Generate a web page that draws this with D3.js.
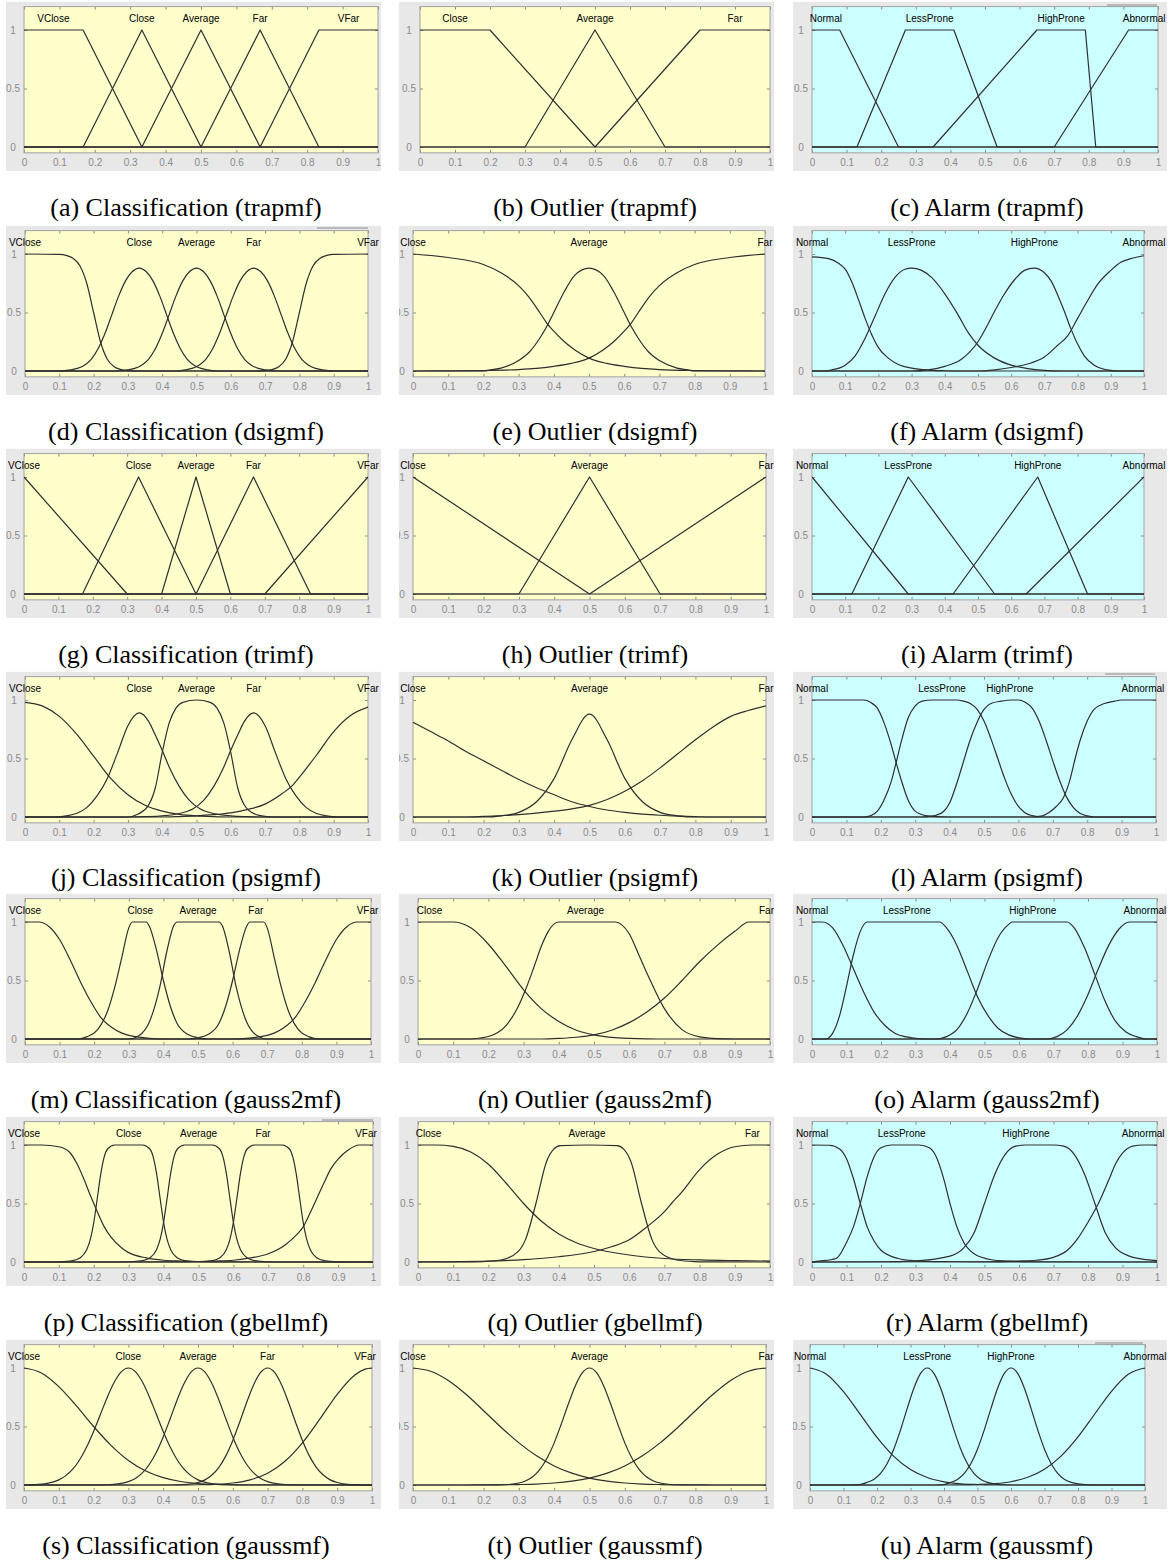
<!DOCTYPE html>
<html><head><meta charset="utf-8">
<script src="https://cdn.jsdelivr.net/npm/d3@7"></script>
<style>body{margin:0;background:#fff;} svg{display:block;}</style>
</head><body><svg id="chart" width="1169" height="1564"></svg>
<script>
// ---------- DATA ----------
const xTicks = [0,0.1,0.2,0.3,0.4,0.5,0.6,0.7,0.8,0.9,1];
const xTickLabels = ["0","0.1","0.2","0.3","0.4","0.5","0.6","0.7","0.8","0.9","1"];
const yTicks = [0,0.5,1];
const yTickLabels = ["0","0.5","1"];
const classNames = ["VClose","Close","Average","Far","VFar"];
const outlierNames = ["Close","Average","Far"];
const alarmNames = ["Normal","LessProne","HighProne","Abnormal"];
const groupNames = ["Classification","Outlier","Alarm"];
const mfTypes = ["trapmf","dsigmf","trimf","psigmf","gauss2mf","gbellmf","gaussmf"];
const letters = "abcdefghijklmnopqrstu".split("");

// (a)
const clsTrap = [
 [[0,1],[0.167,1],[0.333,0],[1,0]],
 [[0,0],[0.167,0],[0.333,1],[0.5,0],[1,0]],
 [[0,0],[0.333,0],[0.5,1],[0.667,0],[1,0]],
 [[0,0],[0.5,0],[0.667,1],[0.833,0],[1,0]],
 [[0,0],[0.667,0],[0.833,1],[1,1]]];
const clsTrapLX = [0.083,0.333,0.5,0.667,0.917];
// (b)
const outTrap = [
 [[0,1],[0.2,1],[0.5,0],[1,0]],
 [[0,0],[0.3,0],[0.5,1],[0.7,0],[1,0]],
 [[0,0],[0.5,0],[0.8,1],[1,1]]];
const outTrapLX = [0.1,0.5,0.9];
// (c)
const almTrap = [
 [[0,1],[0.08,1],[0.25,0],[1,0]],
 [[0,0],[0.13,0],[0.27,1],[0.41,1],[0.535,0],[1,0]],
 [[0,0],[0.35,0],[0.65,1],[0.79,1],[0.82,0],[1,0]],
 [[0,0],[0.7,0],[0.915,1],[1,1]]];
const almTrapLX = [0.04,0.34,0.72,0.96];
// (d)
const clsDsig = [
 [[0,1],[0.1,0.996],[0.12,0.988],[0.14,0.964],[0.16,0.9],[0.18,0.75],[0.2,0.5],[0.22,0.25],[0.24,0.1],[0.26,0.036],[0.28,0.012],[0.3,0.004],[0.33,0],[1,0]],
 [[0,0],[0.1,0],[0.133,0.01],[0.153,0.022],[0.173,0.05],[0.193,0.1],[0.213,0.19],[0.233,0.32],[0.253,0.48],[0.273,0.64],[0.293,0.77],[0.313,0.85],[0.333,0.88],[0.353,0.85],[0.373,0.77],[0.393,0.64],[0.413,0.48],[0.433,0.32],[0.453,0.19],[0.473,0.1],[0.493,0.05],[0.513,0.022],[0.533,0.01],[0.56,0],[1,0]],
 [[0,0],[0.27,0],[0.3,0.01],[0.32,0.022],[0.34,0.05],[0.36,0.1],[0.38,0.19],[0.4,0.32],[0.42,0.48],[0.44,0.64],[0.46,0.77],[0.48,0.85],[0.5,0.88],[0.52,0.85],[0.54,0.77],[0.56,0.64],[0.58,0.48],[0.6,0.32],[0.62,0.19],[0.64,0.1],[0.66,0.05],[0.68,0.022],[0.7,0.01],[0.73,0],[1,0]],
 [[0,0],[0.44,0],[0.467,0.01],[0.487,0.022],[0.507,0.05],[0.527,0.1],[0.547,0.19],[0.567,0.32],[0.587,0.48],[0.607,0.64],[0.627,0.77],[0.647,0.85],[0.667,0.88],[0.687,0.85],[0.707,0.77],[0.727,0.64],[0.747,0.48],[0.767,0.32],[0.787,0.19],[0.807,0.1],[0.827,0.05],[0.847,0.022],[0.867,0.01],[0.9,0],[1,0]],
 [[0,0],[0.67,0],[0.7,0.004],[0.72,0.012],[0.74,0.036],[0.76,0.1],[0.78,0.25],[0.8,0.5],[0.82,0.75],[0.84,0.9],[0.86,0.964],[0.88,0.988],[0.9,0.996],[1,1]]];
const clsDsigLX = [0,0.333,0.5,0.667,1];
// (e)
const outDsig = [
 [[0,1],[0.1,0.97],[0.2,0.91],[0.25,0.84],[0.3,0.73],[0.33,0.63],[0.36,0.5],[0.38,0.41],[0.4,0.34],[0.43,0.25],[0.46,0.18],[0.5,0.11],[0.55,0.065],[0.6,0.04],[0.65,0.022],[0.7,0.012],[0.8,0.004],[0.9,0.001],[1,0]],
 [[0,0],[0.2,0],[0.22,0.01],[0.25,0.025],[0.3,0.09],[0.33,0.16],[0.36,0.28],[0.38,0.38],[0.4,0.5],[0.43,0.68],[0.46,0.82],[0.5,0.88],[0.54,0.82],[0.57,0.68],[0.6,0.5],[0.62,0.38],[0.64,0.28],[0.67,0.16],[0.7,0.09],[0.75,0.025],[0.78,0.01],[0.8,0],[1,0]],
 [[0,0],[0.1,0.001],[0.2,0.004],[0.3,0.012],[0.35,0.022],[0.4,0.04],[0.45,0.065],[0.5,0.11],[0.54,0.18],[0.57,0.25],[0.6,0.34],[0.62,0.41],[0.64,0.5],[0.67,0.63],[0.7,0.73],[0.75,0.84],[0.8,0.91],[0.9,0.97],[1,1]]];
const outDsigLX = [0,0.5,1];
// (f)
const almDsig = [
 [[0,0.975],[0.05,0.96],[0.08,0.92],[0.1,0.87],[0.12,0.76],[0.14,0.61],[0.16,0.45],[0.18,0.31],[0.2,0.2],[0.23,0.11],[0.26,0.055],[0.3,0.025],[0.35,0.008],[0.4,0.002],[0.45,0],[1,0]],
 [[0,0],[0.04,0],[0.06,0.01],[0.1,0.05],[0.13,0.13],[0.16,0.28],[0.19,0.47],[0.22,0.66],[0.25,0.8],[0.28,0.87],[0.3,0.88],[0.33,0.86],[0.36,0.8],[0.4,0.66],[0.44,0.48],[0.47,0.33],[0.5,0.22],[0.55,0.11],[0.6,0.05],[0.65,0.02],[0.7,0.005],[0.75,0],[1,0]],
 [[0,0],[0.3,0],[0.35,0.01],[0.4,0.04],[0.45,0.1],[0.5,0.25],[0.53,0.4],[0.55,0.51],[0.58,0.66],[0.61,0.78],[0.64,0.86],[0.67,0.88],[0.7,0.84],[0.72,0.77],[0.74,0.65],[0.76,0.51],[0.78,0.36],[0.8,0.23],[0.82,0.13],[0.85,0.05],[0.88,0.015],[0.9,0.005],[0.92,0],[1,0]],
 [[0,0],[0.5,0],[0.55,0.01],[0.6,0.03],[0.65,0.06],[0.7,0.12],[0.74,0.22],[0.77,0.3],[0.8,0.45],[0.83,0.6],[0.86,0.74],[0.9,0.86],[0.93,0.93],[0.96,0.96],[1,0.985]]];
const almDsigLX = [0,0.3,0.67,1];
// (g)
const clsTri = [
 [[0,1],[0.3,0],[1,0]],
 [[0,0],[0.17,0],[0.333,1],[0.5,0],[1,0]],
 [[0,0],[0.4,0],[0.5,1],[0.6,0],[1,0]],
 [[0,0],[0.5,0],[0.667,1],[0.833,0],[1,0]],
 [[0,0],[0.7,0],[1,1]]];
const clsTriLX = [0,0.333,0.5,0.667,1];
// (h)
const outTri = [
 [[0,1],[0.5,0],[1,0]],
 [[0,0],[0.3,0],[0.5,1],[0.7,0],[1,0]],
 [[0,0],[0.5,0],[1,1]]];
const outTriLX = [0,0.5,1];
// (i)
const almTri = [
 [[0,1],[0.29,0],[1,0]],
 [[0,0],[0.12,0],[0.29,1],[0.55,0],[1,0]],
 [[0,0],[0.425,0],[0.68,1],[0.83,0],[1,0]],
 [[0,0],[0.645,0],[1,1]]];
const almTriLX = [0,0.29,0.68,1];
// (j)
const clsPsig = [
 [[0,0.98],[0.05,0.95],[0.1,0.86],[0.15,0.71],[0.2,0.52],[0.25,0.33],[0.3,0.19],[0.35,0.1],[0.4,0.05],[0.45,0.022],[0.5,0.009],[0.55,0.003],[0.6,0],[1,0]],
 [[0,0],[0.09,0],[0.12,0.01],[0.15,0.03],[0.18,0.08],[0.21,0.18],[0.24,0.33],[0.27,0.55],[0.3,0.78],[0.333,0.89],[0.36,0.82],[0.38,0.7],[0.4,0.57],[0.42,0.43],[0.45,0.26],[0.48,0.14],[0.51,0.07],[0.55,0.03],[0.6,0.01],[0.65,0.003],[0.7,0],[1,0]],
 [[0,0],[0.3,0],[0.33,0.025],[0.36,0.1],[0.38,0.25],[0.4,0.55],[0.42,0.8],[0.44,0.93],[0.46,0.98],[0.5,1],[0.54,0.98],[0.56,0.93],[0.58,0.8],[0.6,0.55],[0.62,0.25],[0.64,0.1],[0.67,0.025],[0.7,0.005],[0.73,0],[1,0]],
 [[0,0],[0.3,0],[0.35,0.003],[0.4,0.01],[0.45,0.03],[0.49,0.07],[0.52,0.14],[0.55,0.26],[0.58,0.43],[0.6,0.57],[0.62,0.7],[0.64,0.82],[0.667,0.89],[0.7,0.78],[0.73,0.55],[0.76,0.33],[0.79,0.18],[0.82,0.08],[0.85,0.03],[0.88,0.01],[0.91,0],[1,0]],
 [[0,0],[0.4,0],[0.45,0.004],[0.5,0.01],[0.55,0.02],[0.6,0.035],[0.65,0.065],[0.7,0.11],[0.75,0.2],[0.78,0.27],[0.8,0.34],[0.85,0.53],[0.9,0.73],[0.95,0.87],[1,0.94]]];
const clsPsigLX = [0,0.333,0.5,0.667,1];
// (k)
const outPsig = [
 [[0,0.81],[0.05,0.73],[0.1,0.65],[0.15,0.56],[0.2,0.48],[0.25,0.4],[0.3,0.32],[0.35,0.25],[0.4,0.19],[0.45,0.13],[0.5,0.09],[0.55,0.06],[0.6,0.04],[0.65,0.025],[0.7,0.015],[0.75,0.008],[0.8,0.003],[0.85,0],[1,0]],
 [[0,0],[0.2,0],[0.25,0.01],[0.3,0.04],[0.35,0.13],[0.4,0.33],[0.45,0.66],[0.5,0.88],[0.55,0.66],[0.6,0.33],[0.65,0.13],[0.7,0.04],[0.75,0.01],[0.8,0],[1,0]],
 [[0,0],[0.15,0],[0.2,0.005],[0.3,0.02],[0.4,0.05],[0.45,0.07],[0.5,0.1],[0.55,0.15],[0.6,0.22],[0.65,0.31],[0.7,0.42],[0.75,0.54],[0.8,0.66],[0.85,0.77],[0.9,0.86],[0.95,0.91],[1,0.95]]];
const outPsigLX = [0,0.5,1];
// (l)
const almPsig = [
 [[0,1],[0.15,1],[0.17,0.98],[0.19,0.93],[0.21,0.8],[0.23,0.62],[0.245,0.46],[0.26,0.31],[0.28,0.14],[0.3,0.05],[0.33,0.012],[0.36,0.003],[0.4,0],[1,0]],
 [[0,0],[0.15,0],[0.17,0.01],[0.19,0.05],[0.21,0.15],[0.23,0.3],[0.245,0.47],[0.26,0.65],[0.28,0.85],[0.3,0.95],[0.32,0.99],[0.35,1],[0.42,1],[0.44,0.99],[0.46,0.97],[0.48,0.92],[0.5,0.82],[0.52,0.67],[0.54,0.5],[0.56,0.33],[0.58,0.19],[0.6,0.09],[0.62,0.035],[0.64,0.012],[0.67,0],[1,0]],
 [[0,0],[0.32,0],[0.34,0.005],[0.36,0.015],[0.38,0.04],[0.4,0.12],[0.42,0.28],[0.44,0.47],[0.46,0.66],[0.48,0.81],[0.5,0.92],[0.52,0.97],[0.55,0.99],[0.58,1],[0.6,1],[0.62,0.98],[0.64,0.93],[0.66,0.82],[0.68,0.66],[0.7,0.48],[0.72,0.31],[0.74,0.17],[0.76,0.08],[0.78,0.03],[0.8,0.01],[0.82,0],[1,0]],
 [[0,0],[0.64,0],[0.67,0.01],[0.69,0.04],[0.71,0.09],[0.73,0.16],[0.75,0.32],[0.765,0.5],[0.78,0.66],[0.8,0.82],[0.82,0.92],[0.85,0.97],[0.88,0.99],[0.9,1],[1,1]]];
const almPsigLX = [0,0.378,0.575,0.962];
// (m)
const clsG2 = [
 [[0,1],[0.04,1],[0.07,0.96],[0.1,0.85],[0.13,0.68],[0.16,0.49],[0.19,0.32],[0.22,0.18],[0.25,0.1],[0.28,0.05],[0.32,0.02],[0.36,0.006],[0.4,0],[1,0]],
 [[0,0],[0.15,0],[0.18,0.02],[0.21,0.08],[0.24,0.25],[0.26,0.45],[0.28,0.7],[0.3,0.95],[0.31,1],[0.35,1],[0.36,0.96],[0.38,0.76],[0.4,0.5],[0.42,0.28],[0.44,0.13],[0.47,0.04],[0.5,0.01],[0.53,0],[1,0]],
 [[0,0],[0.3,0],[0.33,0.03],[0.36,0.15],[0.39,0.45],[0.41,0.75],[0.43,0.97],[0.44,1],[0.56,1],[0.57,0.97],[0.59,0.75],[0.61,0.45],[0.64,0.15],[0.67,0.03],[0.7,0],[1,0]],
 [[0,0],[0.47,0],[0.5,0.01],[0.53,0.04],[0.56,0.13],[0.58,0.28],[0.6,0.5],[0.62,0.76],[0.64,0.96],[0.65,1],[0.69,1],[0.7,0.95],[0.72,0.7],[0.74,0.45],[0.76,0.25],[0.79,0.08],[0.82,0.02],[0.85,0],[1,0]],
 [[0,0],[0.6,0],[0.64,0.006],[0.68,0.02],[0.72,0.05],[0.75,0.1],[0.78,0.18],[0.81,0.32],[0.84,0.49],[0.87,0.68],[0.9,0.85],[0.93,0.96],[0.96,1],[1,1]]];
const clsG2LX = [0,0.333,0.5,0.667,0.99];
// (n)
const outG2 = [
 [[0,1],[0.1,1],[0.15,0.95],[0.2,0.81],[0.25,0.62],[0.3,0.42],[0.35,0.26],[0.4,0.15],[0.45,0.075],[0.5,0.035],[0.55,0.014],[0.6,0.005],[0.65,0.001],[0.7,0],[1,0]],
 [[0,0],[0.15,0],[0.18,0.01],[0.2,0.021],[0.25,0.115],[0.28,0.25],[0.3,0.38],[0.33,0.62],[0.35,0.79],[0.37,0.92],[0.4,1],[0.56,1],[0.6,0.9],[0.63,0.7],[0.66,0.5],[0.7,0.26],[0.75,0.08],[0.8,0.018],[0.85,0.003],[0.9,0],[1,0]],
 [[0,0],[0.35,0],[0.4,0.005],[0.45,0.015],[0.5,0.035],[0.55,0.075],[0.6,0.14],[0.65,0.23],[0.7,0.35],[0.75,0.5],[0.8,0.66],[0.85,0.8],[0.9,0.92],[0.94,1],[1,1]]];
const outG2LX = [0.033,0.476,0.99];
// (o)
const almG2 = [
 [[0,1],[0.03,1],[0.06,0.95],[0.09,0.8],[0.12,0.6],[0.15,0.4],[0.18,0.23],[0.21,0.12],[0.24,0.05],[0.27,0.02],[0.3,0.006],[0.33,0],[1,0]],
 [[0,0],[0.04,0],[0.06,0.05],[0.08,0.2],[0.1,0.45],[0.12,0.72],[0.14,0.92],[0.16,1],[0.37,1],[0.39,0.95],[0.42,0.8],[0.45,0.58],[0.48,0.36],[0.51,0.2],[0.54,0.09],[0.57,0.035],[0.6,0.01],[0.63,0],[1,0]],
 [[0,0],[0.36,0],[0.39,0.02],[0.42,0.08],[0.45,0.22],[0.48,0.43],[0.51,0.67],[0.54,0.87],[0.57,0.98],[0.58,1],[0.74,1],[0.76,0.95],[0.79,0.78],[0.82,0.55],[0.85,0.32],[0.88,0.15],[0.91,0.06],[0.94,0.02],[0.97,0],[1,0]],
 [[0,0],[0.68,0],[0.71,0.02],[0.74,0.08],[0.77,0.2],[0.8,0.38],[0.83,0.6],[0.86,0.8],[0.89,0.94],[0.92,1],[1,1]]];
const almG2LX = [0,0.275,0.64,0.965];
// (p)
const clsGbell = [
 [[0,1],[0.05,1],[0.1,0.985],[0.13,0.94],[0.15,0.85],[0.17,0.72],[0.19,0.57],[0.21,0.43],[0.23,0.3],[0.25,0.21],[0.28,0.12],[0.3,0.08],[0.35,0.035],[0.4,0.015],[0.45,0.008],[0.5,0.004],[0.6,0.001],[0.7,0],[1,0]],
 [[0,0],[0.06,0],[0.1,0.002],[0.14,0.012],[0.16,0.034],[0.18,0.107],[0.19,0.193],[0.2,0.339],[0.21,0.544],[0.22,0.753],[0.23,0.9],[0.24,0.968],[0.26,1],[0.34,1],[0.36,0.968],[0.37,0.9],[0.38,0.753],[0.39,0.544],[0.4,0.339],[0.41,0.193],[0.42,0.107],[0.44,0.034],[0.46,0.012],[0.5,0.002],[0.55,0],[1,0]],
 [[0,0],[0.25,0],[0.3,0.002],[0.34,0.012],[0.36,0.034],[0.38,0.107],[0.39,0.193],[0.4,0.339],[0.41,0.544],[0.42,0.753],[0.43,0.9],[0.44,0.968],[0.46,1],[0.54,1],[0.56,0.968],[0.57,0.9],[0.58,0.753],[0.59,0.544],[0.6,0.339],[0.61,0.193],[0.62,0.107],[0.64,0.034],[0.66,0.012],[0.7,0.002],[0.75,0],[1,0]],
 [[0,0],[0.45,0],[0.5,0.002],[0.54,0.012],[0.56,0.034],[0.58,0.107],[0.59,0.193],[0.6,0.339],[0.61,0.544],[0.62,0.753],[0.63,0.9],[0.64,0.968],[0.66,1],[0.74,1],[0.76,0.968],[0.77,0.9],[0.78,0.753],[0.79,0.544],[0.8,0.339],[0.81,0.193],[0.82,0.107],[0.84,0.034],[0.86,0.012],[0.9,0.002],[0.94,0],[1,0]],
 [[0,0],[0.3,0],[0.4,0.001],[0.5,0.004],[0.55,0.008],[0.6,0.015],[0.65,0.035],[0.7,0.07],[0.75,0.15],[0.78,0.23],[0.8,0.3],[0.82,0.42],[0.84,0.55],[0.86,0.68],[0.88,0.8],[0.9,0.88],[0.93,0.96],[0.96,1],[1,1]]];
const clsGbellLX = [0,0.3,0.5,0.685,0.98];
// (q)
const outGbell = [
 [[0,1],[0.05,1],[0.1,0.988],[0.15,0.94],[0.2,0.835],[0.25,0.675],[0.3,0.5],[0.35,0.35],[0.4,0.24],[0.45,0.165],[0.5,0.115],[0.6,0.06],[0.7,0.03],[0.8,0.018],[0.9,0.012],[1,0.008]],
 [[0,0],[0.12,0.001],[0.185,0.004],[0.235,0.017],[0.285,0.091],[0.305,0.189],[0.335,0.5],[0.365,0.857],[0.385,0.962],[0.405,0.994],[0.485,1],[0.565,0.994],[0.585,0.962],[0.605,0.857],[0.635,0.5],[0.665,0.189],[0.685,0.091],[0.735,0.017],[0.785,0.004],[0.85,0.001],[1,0]],
 [[0,0.001],[0.2,0.008],[0.3,0.02],[0.4,0.045],[0.5,0.09],[0.55,0.13],[0.6,0.19],[0.65,0.3],[0.7,0.43],[0.72,0.5],[0.75,0.6],[0.8,0.79],[0.85,0.92],[0.9,0.985],[0.95,1],[1,1]]];
const outGbellLX = [0.03,0.48,0.95];
// (r)
const almGbell = [
 [[0,1],[0.05,0.998],[0.08,0.966],[0.1,0.883],[0.12,0.714],[0.14,0.5],[0.16,0.3],[0.18,0.18],[0.2,0.1],[0.25,0.03],[0.3,0.01],[0.35,0.004],[0.4,0.002],[0.5,0],[1,0]],
 [[0,0],[0.02,0.007],[0.07,0.03],[0.1,0.167],[0.12,0.3],[0.14,0.5],[0.16,0.73],[0.18,0.9],[0.2,0.976],[0.23,1],[0.31,1],[0.34,0.976],[0.36,0.9],[0.38,0.73],[0.4,0.5],[0.42,0.3],[0.44,0.167],[0.47,0.07],[0.52,0.019],[0.57,0.007],[0.65,0.002],[1,0]],
 [[0,0],[0.2,0.002],[0.3,0.01],[0.4,0.05],[0.44,0.12],[0.47,0.25],[0.5,0.5],[0.53,0.75],[0.56,0.92],[0.59,0.99],[0.62,1],[0.7,1],[0.73,0.99],[0.76,0.92],[0.79,0.75],[0.82,0.5],[0.85,0.25],[0.88,0.12],[0.92,0.05],[0.97,0.02],[1,0.012]],
 [[0,0],[0.5,0.002],[0.6,0.008],[0.65,0.015],[0.7,0.04],[0.74,0.1],[0.77,0.2],[0.8,0.34],[0.83,0.5],[0.86,0.7],[0.88,0.84],[0.9,0.93],[0.93,0.99],[0.96,1],[1,1]]];
const almGbellLX = [0,0.26,0.62,0.96];
// (s)
const clsGauss = [
 [[0,1],[0.05,0.958],[0.1,0.841],[0.15,0.678],[0.2,0.5],[0.25,0.339],[0.3,0.21],[0.35,0.12],[0.4,0.063],[0.45,0.03],[0.5,0.013],[0.55,0.005],[0.6,0.002],[0.65,0],[1,0]],
 [[0,0],[0.04,0.005],[0.07,0.016],[0.1,0.044],[0.12,0.08],[0.14,0.135],[0.16,0.216],[0.18,0.325],[0.2,0.458],[0.22,0.607],[0.24,0.755],[0.26,0.882],[0.28,0.969],[0.3,1],[0.32,0.969],[0.34,0.882],[0.36,0.755],[0.38,0.607],[0.4,0.458],[0.42,0.325],[0.44,0.216],[0.46,0.135],[0.48,0.08],[0.5,0.044],[0.53,0.016],[0.56,0.005],[0.6,0.001],[1,0]],
 [[0,0],[0.2,0],[0.24,0.002],[0.27,0.009],[0.3,0.029],[0.32,0.056],[0.34,0.103],[0.36,0.175],[0.38,0.278],[0.4,0.411],[0.42,0.566],[0.44,0.726],[0.46,0.867],[0.48,0.965],[0.5,1],[0.52,0.965],[0.54,0.867],[0.56,0.726],[0.58,0.566],[0.6,0.411],[0.62,0.278],[0.64,0.175],[0.66,0.103],[0.68,0.056],[0.7,0.029],[0.73,0.009],[0.76,0.002],[0.8,0],[1,0]],
 [[0,0],[0.4,0],[0.44,0.0015],[0.47,0.006],[0.5,0.021],[0.52,0.044],[0.54,0.085],[0.56,0.151],[0.58,0.249],[0.6,0.381],[0.62,0.539],[0.64,0.707],[0.66,0.857],[0.68,0.962],[0.7,1],[0.72,0.962],[0.74,0.857],[0.76,0.707],[0.78,0.539],[0.8,0.381],[0.82,0.249],[0.84,0.151],[0.86,0.085],[0.88,0.044],[0.9,0.021],[0.93,0.006],[0.96,0.0015],[1,0]],
 [[0,0],[0.45,0],[0.5,0.002],[0.55,0.006],[0.6,0.017],[0.65,0.044],[0.7,0.1],[0.75,0.203],[0.8,0.36],[0.85,0.563],[0.9,0.775],[0.95,0.938],[0.98,0.99],[1,1]]];
const clsGaussLX = [0,0.3,0.5,0.7,0.98];
// (t)
const outGauss = [
 [[0,1],[0.05,0.972],[0.1,0.893],[0.15,0.775],[0.2,0.635],[0.25,0.492],[0.3,0.36],[0.35,0.249],[0.4,0.163],[0.45,0.101],[0.5,0.059],[0.55,0.033],[0.6,0.017],[0.65,0.008],[0.7,0.004],[0.8,0.001],[0.85,0],[1,0]],
 [[0,0],[0.2,0],[0.24,0.001],[0.27,0.0045],[0.3,0.017],[0.32,0.037],[0.34,0.073],[0.36,0.135],[0.38,0.23],[0.4,0.36],[0.42,0.521],[0.44,0.692],[0.46,0.849],[0.48,0.96],[0.5,1],[0.52,0.96],[0.54,0.849],[0.56,0.692],[0.58,0.521],[0.6,0.36],[0.62,0.23],[0.64,0.135],[0.66,0.073],[0.68,0.037],[0.7,0.017],[0.73,0.0045],[0.76,0.001],[0.8,0],[1,0]],
 [[0,0],[0.15,0],[0.2,0.001],[0.3,0.004],[0.35,0.008],[0.4,0.017],[0.45,0.033],[0.5,0.059],[0.55,0.101],[0.6,0.163],[0.65,0.249],[0.7,0.36],[0.75,0.492],[0.8,0.635],[0.85,0.775],[0.9,0.893],[0.95,0.972],[1,1]]];
const outGaussLX = [0,0.5,1];
// (u)
const almGauss = [
 [[0,1],[0.05,0.945],[0.1,0.798],[0.15,0.603],[0.2,0.406],[0.25,0.245],[0.3,0.132],[0.35,0.064],[0.4,0.027],[0.45,0.01],[0.5,0.004],[0.55,0.001],[0.6,0],[1,0]],
 [[0,0],[0.12,0],[0.15,0.004],[0.17,0.022],[0.19,0.048],[0.21,0.098],[0.23,0.182],[0.25,0.306],[0.27,0.469],[0.29,0.653],[0.31,0.827],[0.33,0.954],[0.35,1],[0.37,0.954],[0.39,0.827],[0.41,0.653],[0.43,0.469],[0.45,0.306],[0.47,0.182],[0.49,0.098],[0.51,0.048],[0.53,0.022],[0.55,0.009],[0.58,0.002],[0.62,0],[1,0]],
 [[0,0],[0.37,0],[0.4,0.004],[0.42,0.022],[0.44,0.048],[0.46,0.098],[0.48,0.182],[0.5,0.306],[0.52,0.469],[0.54,0.653],[0.56,0.827],[0.58,0.954],[0.6,1],[0.62,0.954],[0.64,0.827],[0.66,0.653],[0.68,0.469],[0.7,0.306],[0.72,0.182],[0.74,0.098],[0.76,0.048],[0.78,0.022],[0.8,0.009],[0.83,0.002],[0.87,0],[1,0]],
 [[0,0],[0.4,0],[0.45,0.001],[0.5,0.004],[0.55,0.011],[0.6,0.028],[0.65,0.066],[0.7,0.135],[0.75,0.249],[0.8,0.411],[0.85,0.607],[0.9,0.801],[0.95,0.946],[1,1]]];
const almGaussLX = [0,0.35,0.6,1];

// ---------- LAYOUT ----------
const W = 1169, H = 1564;
const rowY1 = [30,254,477,700,922,1145,1368];
const unitH = 117;
const plotXs = [[24,378],[420,770],[812,1158],[25,368],[413,765],[812,1144],[24,368],[413,766],[812,1144],
 [25,368],[413,766],[812,1156],[25,371],[418,770],[812,1157],[24,373],[418,770],[812,1157],[24,372],[413,766],[810,1145]];
const greyX = [[6,381],[399,774],[793,1167]];
const capX = [186,595,987];
const bgColors = ["#ffffcc","#ffffcc","#ccffff"];
// small window-edge strokes visible above some panels in the source screenshots
const edgeMarks = [[1107,1157,5],[317,368,228],[1105,1155,674],[322,373,1120],[1095,1143,1343]];

const panelCurves = [clsTrap,outTrap,almTrap,clsDsig,outDsig,almDsig,clsTri,outTri,almTri,clsPsig,outPsig,almPsig,
 clsG2,outG2,almG2,clsGbell,outGbell,almGbell,clsGauss,outGauss,almGauss];
const panelLX = [clsTrapLX,outTrapLX,almTrapLX,clsDsigLX,outDsigLX,almDsigLX,clsTriLX,outTriLX,almTriLX,clsPsigLX,outPsigLX,almPsigLX,
 clsG2LX,outG2LX,almG2LX,clsGbellLX,outGbellLX,almGbellLX,clsGaussLX,outGaussLX,almGaussLX];
const nameSets = [classNames,outlierNames,alarmNames];

const svg = d3.select("#chart");
svg.append("rect").attr("width",W).attr("height",H).attr("fill","#fff");
const defs = svg.append("defs");

panelCurves.forEach((curves,i)=>{
  const r = Math.floor(i/3), c = i%3;
  const type = mfTypes[r];
  const linear = (type==="trapmf"||type==="trimf");
  const [xl,xr] = plotXs[i];
  const y1 = rowY1[r], y0 = y1+unitH;
  const x = d3.scaleLinear().domain([0,1]).range([xl,xr]);
  const y = d3.scaleLinear().domain([0,1]).range([y0,y1]);
  const top = y(1.2), bottom = y(-0.05);
  const gt = top-5, gb = y0+24;
  defs.append("clipPath").attr("id","clip"+i).append("rect")
    .attr("x",greyX[c][0]).attr("y",gt).attr("width",greyX[c][1]-greyX[c][0]).attr("height",gb-gt);
  defs.append("clipPath").attr("id","pclip"+i).append("rect")
    .attr("x",xl).attr("y",top).attr("width",xr-xl).attr("height",bottom-top);
  const g = svg.append("g").attr("clip-path",`url(#clip${i})`);
  g.append("rect").attr("x",greyX[c][0]).attr("y",gt).attr("width",greyX[c][1]-greyX[c][0]).attr("height",gb-gt).attr("fill","#e8e8e8");
  g.append("rect").attr("x",xl).attr("y",top).attr("width",xr-xl).attr("height",bottom-top).attr("fill",bgColors[c]);

  const tickCol = "#8c8c8c";
  const fontTick = "'Liberation Sans', Arial, sans-serif";
  g.append("g").attr("transform",`translate(0,${bottom})`)
    .call(d3.axisBottom(x).tickValues(xTicks).tickFormat((d,k)=>xTickLabels[k]).tickSizeInner(-3).tickSizeOuter(0).tickPadding(6));
  g.append("g").attr("transform",`translate(0,${top})`)
    .call(d3.axisTop(x).tickValues(xTicks).tickFormat("").tickSizeInner(-3).tickSizeOuter(0));
  const ay = g.append("g").attr("transform",`translate(${xl},0)`)
    .call(d3.axisLeft(y).tickValues(yTicks).tickFormat((d,k)=>yTickLabels[k]).tickSizeInner(-3).tickSizeOuter(0));
  g.append("g").attr("transform",`translate(${xr},0)`)
    .call(d3.axisRight(y).tickValues(yTicks).tickFormat("").tickSizeInner(-3).tickSizeOuter(0));
  g.selectAll(".domain").remove();
  g.selectAll(".tick line").attr("stroke",tickCol);
  g.selectAll(".tick text").attr("fill","#8a8a8a").attr("font-size","10px").attr("font-family",fontTick);
  ay.selectAll(".tick text").attr("x",-11).attr("text-anchor","middle");

  g.append("rect").attr("x",xl).attr("y",top).attr("width",xr-xl).attr("height",bottom-top)
    .attr("fill","none").attr("stroke","#a0a0a0").attr("stroke-width",1);

  const line = d3.line().x(d=>x(d[0])).y(d=>y(d[1])).curve(linear?d3.curveLinear:d3.curveMonotoneX);
  const cg = g.append("g").attr("clip-path",`url(#pclip${i})`);
  curves.forEach(pts=>{
    cg.append("path").attr("d",line(pts)).attr("fill","none").attr("stroke","#2e2e2e")
      .attr("stroke-width",1.2).attr("stroke-linejoin","round");
  });
  const names = nameSets[c];
  panelLX[i].forEach((lx,k)=>{
    g.append("text").attr("x",x(lx)).attr("y",y(1.1)).attr("dy","0.35em")
      .attr("text-anchor","middle").attr("font-family",fontTick).attr("font-size","10px")
      .attr("fill","#000").text(names[k]);
  });

  svg.append("text").attr("x",capX[c]).attr("y",y0+69).attr("text-anchor","middle")
    .attr("font-family","'Liberation Serif','Times New Roman',serif").attr("font-size","26px")
    .attr("fill","#000").text(`(${letters[i]}) ${groupNames[c]} (${type})`);
});

svg.selectAll(".edge").data(edgeMarks).enter().append("line").attr("class","edge")
  .attr("x1",d=>d[0]).attr("x2",d=>d[1]).attr("y1",d=>d[2]).attr("y2",d=>d[2])
  .attr("stroke","#8a8a8a").attr("stroke-width",1);
</script></body></html>
